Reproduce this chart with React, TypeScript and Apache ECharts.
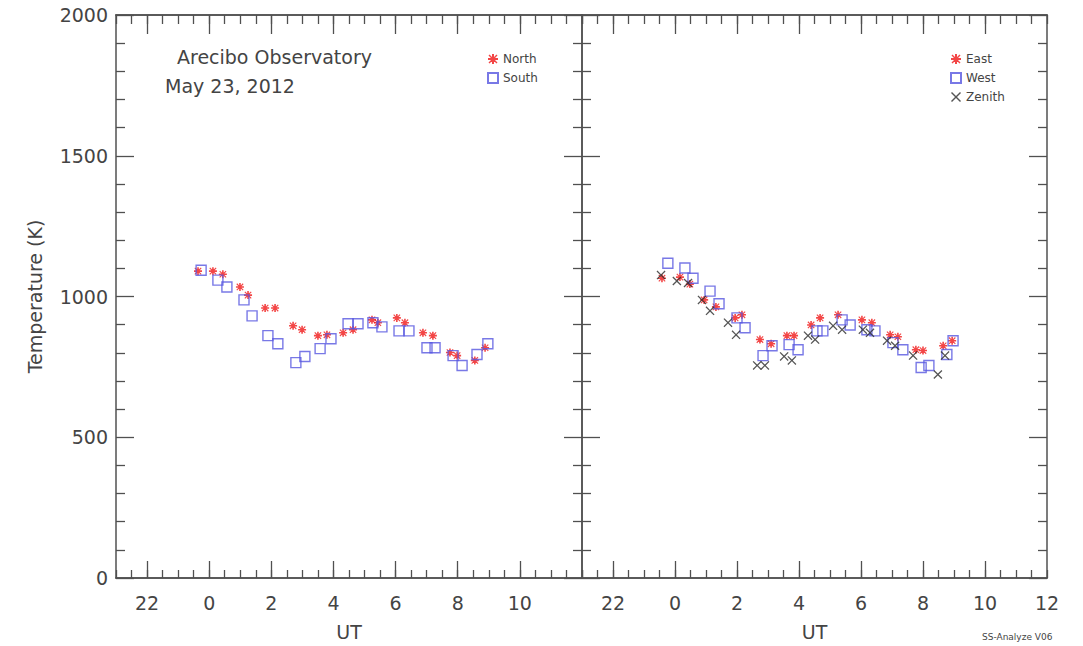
import React, { useEffect, useRef } from "react";
import * as echarts from "echarts";

// Left panel: North (red stars) and South (blue squares) — [UT hour, Temperature K]
const northData: number[][] = [
  [-0.36, 1090], [0.12, 1090], [0.44, 1079], [0.99, 1034], [1.25, 1005],
  [1.8, 959], [2.12, 959], [2.7, 896], [2.99, 882], [3.5, 861], [3.79, 864],
  [4.31, 871], [4.63, 882], [5.24, 917], [5.43, 907], [6.04, 924], [6.3, 907],
  [6.88, 871], [7.2, 861], [7.75, 801], [7.98, 790], [8.55, 773], [8.88, 818],
];
const southData: number[][] = [
  [-0.26, 1093], [0.28, 1058], [0.57, 1034], [1.12, 988], [1.38, 931],
  [1.89, 861], [2.21, 832], [2.79, 765], [3.08, 787], [3.57, 815], [3.92, 850],
  [4.47, 903], [4.79, 903], [5.27, 907], [5.56, 892], [6.11, 878], [6.43, 878],
  [7.01, 818], [7.27, 818], [7.85, 790], [8.14, 755], [8.62, 794], [8.97, 832],
];
// Right panel: East (red stars), West (blue squares), Zenith (black crosses)
const eastData: number[][] = [
  [-0.42, 1065], [0.16, 1069], [0.48, 1044], [0.94, 988], [1.32, 963],
  [1.94, 924], [2.16, 935], [2.74, 847], [3.1, 832], [3.61, 861], [3.84, 861],
  [4.39, 899], [4.68, 924], [5.26, 935], [6.03, 917], [6.35, 907],
  [6.94, 864], [7.19, 857], [7.77, 811], [8.0, 808], [8.65, 825], [8.94, 843],
];
const westData: number[][] = [
  [-0.23, 1118], [0.32, 1101], [0.58, 1065], [1.13, 1019], [1.42, 974],
  [2.0, 924], [2.26, 889], [2.84, 790], [3.13, 825], [3.68, 829], [3.97, 811],
  [4.58, 878], [4.77, 878], [5.39, 917], [5.65, 899], [6.19, 882], [6.45, 878],
  [7.03, 836], [7.35, 811], [7.94, 748], [8.19, 755], [8.77, 794], [8.97, 843],
];
const zenithData: number[][] = [
  [-0.45, 1076], [0.06, 1055], [0.42, 1048], [0.87, 988], [1.13, 949],
  [1.71, 907], [1.97, 864], [2.65, 755], [2.9, 755], [3.52, 787], [3.77, 773],
  [4.29, 861], [4.52, 847], [5.1, 896], [5.39, 882], [6.06, 882], [6.29, 871],
  [6.84, 843], [7.1, 825], [7.68, 790], [8.48, 723], [8.71, 790],
];

const leftMajorTicks = [-2, 0, 2, 4, 6, 8, 10];
const leftTickLabels = [-2, 0, 2, 4, 6, 8, 10];
const rightMajorTicks = [-2, 0, 2, 4, 6, 8, 10];
const rightTickLabels = [-2, 0, 2, 4, 6, 8, 10, 12];

const X_MIN = -3;
const X_MAX = 12;
const Y_MIN = 0;
const Y_MAX = 2000;

const AX = "#505050";
const TXT = "#444444";
const FONT = "DejaVu Sans";

const STAR =
  "path://M4,0 L6,0 L6,4 L10,4 L10,6 L6,6 L6,10 L4,10 L4,6 L0,6 L0,4 L4,4 Z M1.5,0.5 L5,4 L8.5,0.5 L9.5,1.5 L6,5 L9.5,8.5 L8.5,9.5 L5,6 L1.5,9.5 L0.5,8.5 L4,5 L0.5,1.5 Z";
const CROSS =
  "path://M1,0 L5,4 L9,0 L10,1 L6,5 L10,9 L9,10 L5,6 L1,10 L0,9 L4,5 L0,1 Z";

const tickLine = () => ({ color: AX, width: 1.3 });
const axLine = () => ({ show: true, onZero: false, lineStyle: { color: AX, width: 1.5 } });

function xAxes(gridIndex: number, majors: number[], labels: number[]) {
  const fmt = (v: number) => String(v < 0 ? v + 24 : v);
  const common = () => ({
    type: "value",
    gridIndex,
    min: X_MIN,
    max: X_MAX,
    splitLine: { show: false },
    axisLine: axLine(),
  });
  return [
    {
      ...common(),
      position: "bottom",
      interval: 0.5,
      axisTick: { show: true, inside: true, length: 8, lineStyle: tickLine() },
      axisLabel: { show: false },
    },
    {
      ...common(),
      position: "bottom",
      interval: 1,
      axisTick: { show: true, inside: true, length: 17, customValues: majors, lineStyle: tickLine() },
      axisLabel: {
        show: true,
        customValues: labels,
        formatter: fmt,
        margin: 15,
        color: TXT,
        fontFamily: FONT,
        fontSize: 19,
      },
      name: "UT",
      nameLocation: "middle",
      nameGap: 44,
      nameTextStyle: { color: TXT, fontFamily: FONT, fontSize: 19 },
    },
    {
      ...common(),
      position: "top",
      interval: 0.5,
      axisTick: { show: true, inside: true, length: 9, lineStyle: tickLine() },
      axisLabel: { show: false },
    },
    {
      ...common(),
      position: "top",
      interval: 1,
      axisTick: { show: true, inside: true, length: 19, customValues: majors, lineStyle: tickLine() },
      axisLabel: { show: false },
    },
  ];
}

function yAxes(gridIndex: number, showLabels: boolean) {
  const common = () => ({
    type: "value",
    gridIndex,
    min: Y_MIN,
    max: Y_MAX,
    interval: 500,
    splitLine: { show: false },
    axisLine: axLine(),
    axisTick: { show: true, inside: true, length: 18, lineStyle: tickLine() },
    minorTick: { show: true, splitNumber: 5, length: 9, lineStyle: tickLine() },
  });
  const left: any = {
    ...common(),
    position: "left",
    axisLabel: {
      show: showLabels,
      margin: 8,
      color: TXT,
      fontFamily: FONT,
      fontSize: 19,
      formatter: (v: number) => String(v),
    },
  };
  if (showLabels) {
    left.name = "Temperature (K)";
    left.nameLocation = "middle";
    left.nameGap = 72;
    left.nameRotate = 90;
    left.nameTextStyle = { color: TXT, fontFamily: FONT, fontSize: 19 };
  }
  return [
    left,
    {
      ...common(),
      position: "right",
      axisLabel: { show: false },
    },
  ];
}

const redStyle = () => ({ color: "#f01818" });
const blueStyle = () => ({ color: "rgba(255,255,255,0)", borderColor: "#5656e0", borderWidth: 1.4 });
const blackStyle = () => ({ color: "#2a2a2a" });

export default function App() {
  const ref = useRef<HTMLDivElement>(null);
  useEffect(() => {
    if (!ref.current) return;
    const chart = echarts.init(ref.current, null, { renderer: "svg" });
    chart.setOption({
      animation: false,
      backgroundColor: "#ffffff",
      grid: [
        { left: 116, top: 15, width: 466, height: 567 },
        { left: 582, top: 15, width: 465, height: 567 },
      ],
      xAxis: [
        ...xAxes(0, leftMajorTicks, leftTickLabels),
        ...xAxes(1, rightMajorTicks, rightTickLabels),
      ],
      yAxis: [...yAxes(0, true), ...yAxes(1, false)],
      legend: [
        {
          left: 482,
          top: 48,
          orient: "vertical",
          itemWidth: 10,
          itemHeight: 10,
          itemGap: 7,
          data: ["North", "South"],
          textStyle: { color: TXT, fontFamily: FONT, fontSize: 12 },
        },
        {
          left: 945,
          top: 48,
          orient: "vertical",
          itemWidth: 10,
          itemHeight: 10,
          itemGap: 7,
          data: ["East", "West", "Zenith"],
          textStyle: { color: TXT, fontFamily: FONT, fontSize: 12 },
        },
      ],
      graphic: [
        {
          type: "text",
          left: 177,
          top: 47,
          style: { text: "Arecibo Observatory", fill: TXT, font: `19px ${FONT}` },
        },
        {
          type: "text",
          left: 165,
          top: 76,
          style: { text: "May 23, 2012", fill: TXT, font: `19px ${FONT}` },
        },
        {
          type: "text",
          left: 982,
          top: 632,
          style: { text: "SS-Analyze V06", fill: TXT, font: `9px ${FONT}` },
        },
      ],
      series: [
        {
          name: "North",
          type: "scatter",
          xAxisIndex: 0,
          yAxisIndex: 0,
          symbol: STAR,
          symbolSize: 8,
          itemStyle: redStyle(),
          data: northData,
        },
        {
          name: "South",
          type: "scatter",
          xAxisIndex: 0,
          yAxisIndex: 0,
          symbol: "rect",
          symbolSize: 10,
          itemStyle: blueStyle(),
          data: southData,
        },
        {
          name: "East",
          type: "scatter",
          xAxisIndex: 4,
          yAxisIndex: 2,
          symbol: STAR,
          symbolSize: 8,
          itemStyle: redStyle(),
          data: eastData,
        },
        {
          name: "West",
          type: "scatter",
          xAxisIndex: 4,
          yAxisIndex: 2,
          symbol: "rect",
          symbolSize: 10,
          itemStyle: blueStyle(),
          data: westData,
        },
        {
          name: "Zenith",
          type: "scatter",
          xAxisIndex: 4,
          yAxisIndex: 2,
          symbol: CROSS,
          symbolSize: 9,
          itemStyle: blackStyle(),
          data: zenithData,
        },
      ],
    });
    return () => chart.dispose();
  }, []);
  return (
    <div
      ref={ref}
      style={{ position: "fixed", left: 0, top: 0, width: 1083, height: 646, background: "#fff" }}
    />
  );
}
